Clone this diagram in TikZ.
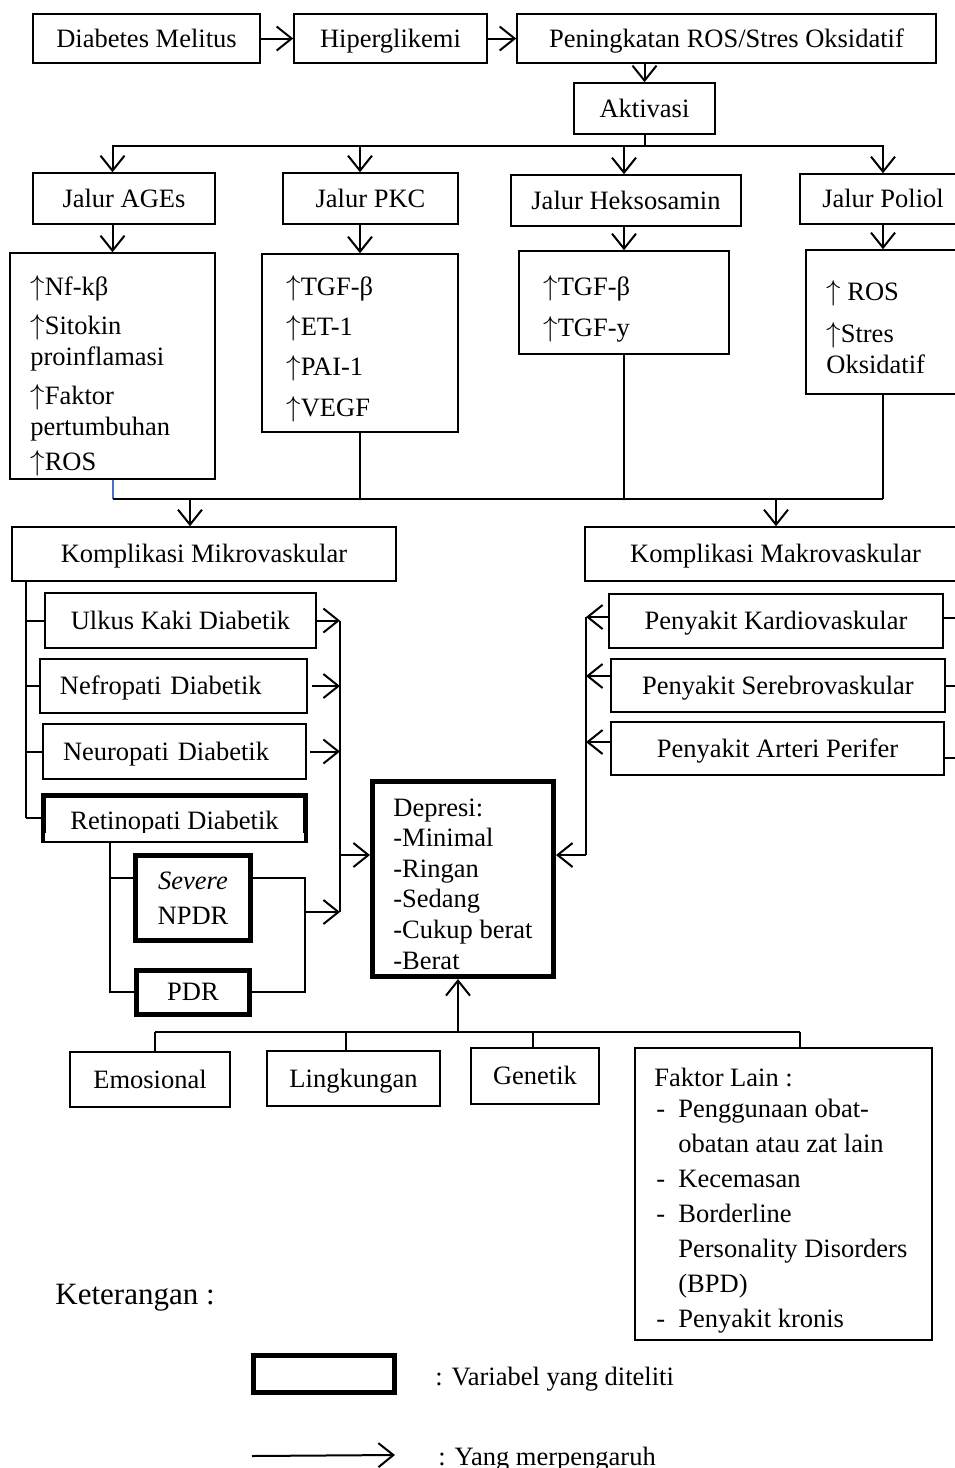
\documentclass[tikz,border=0pt]{standalone}
\usepackage{fontspec}
\setmainfont{Liberation Serif}
\usetikzlibrary{arrows.meta,calc}
\definecolor{lnblue}{RGB}{68,114,196}
\begin{document}
\begin{tikzpicture}[x=0.5pt,y=-0.5pt,
  font=\fontsize{13.25}{15.3}\selectfont,
  bx/.style={draw, line width=0.75pt, inner sep=0pt, align=center},
  sl/.style={text height=10.8pt, text depth=2pt},
  tk/.style={draw, line width=2.5pt, inner sep=0pt, align=center},
  tx/.style={anchor=base west, inner sep=0pt, align=left},
  ln/.style={line width=1pt},
  arr/.style={line width=1pt, -{Straight Barb[length=7.5pt,width=12pt]}},
]
\path[fill=white, use as bounding box] (0,0) rectangle (954,1468);

% top row
\node[bx, sl, minimum width=113.5pt, minimum height=24.5pt] (dm) at (146.5,38.5) {Diabetes Melitus};
\node[bx, sl, minimum width=96.5pt, minimum height=24.5pt] (hip) at (390.5,38.5) {Hiperglikemi};
\node[bx, sl, minimum width=209.5pt, minimum height=24.5pt] (ros) at (726.5,38.5) {Peningkatan ROS/Stres Oksidatif};
\node[bx, sl, minimum width=70.5pt, minimum height=25.5pt] (akt) at (644.5,108.5) {Aktivasi};

% pathways
\node[bx, sl, minimum width=91pt, minimum height=25.5pt] (ages) at (124,198.5) {Jalur AGEs};
\node[bx, sl, minimum width=87.5pt, minimum height=25.5pt] (pkc) at (370.5,198.5) {Jalur PKC};
\node[bx, sl, minimum width=115pt, minimum height=25.5pt] (hek) at (626,200.5) {Jalur Heksosamin};
\node[bx, sl, minimum width=83pt, minimum height=25pt] (pol) at (883,199) {Jalur Poliol};

% (base anchor of a multi-line text = baseline of its last line)
\node[bx, minimum width=102.5pt, minimum height=113pt] (agesC) at (112.5,366) {};
\node[tx] (agesT) at (30,470)
  {$\uparrow$Nf-kβ\\[4.5pt] $\uparrow$Sitokin\\ proinflamasi\\[4.5pt] $\uparrow$Faktor\\ pertumbuhan\\[2pt] $\uparrow$ROS};
\node[bx, minimum width=98pt, minimum height=89pt] (pkcC) at (360,343) {};
\node[tx] (pkcT) at (286,416)
  {$\uparrow$TGF-β\\[4.75pt] $\uparrow$ET-1\\[4.75pt] $\uparrow$PAI-1\\[4.75pt] $\uparrow$VEGF};
\node[bx, minimum width=105pt, minimum height=51.5pt] (hekC) at (624,302.5) {};
\node[tx] (hekT) at (543,336) {$\uparrow$TGF-β\\[4.75pt] $\uparrow$TGF-y};
\node[bx, minimum width=77pt, minimum height=72pt] (polC) at (883,322) {};
\node[tx] (polT) at (826,373) {$\uparrow$ ROS\\[5.5pt] $\uparrow$Stres\\ Oksidatif};

% complications
\node[bx, sl, minimum width=192pt, minimum height=27pt] (mik) at (204,554) {Komplikasi Mikrovaskular};
\node[bx, sl, minimum width=190.5pt, minimum height=27pt] (mak) at (775.5,554) {Komplikasi Makrovaskular};

\node[bx, sl, minimum width=135.5pt, minimum height=27.5pt] (ulk) at (180.5,620.5) {Ulkus Kaki Diabetik};
\node[bx, sl, minimum width=133.5pt, minimum height=27pt, text width=113.5pt, inner xsep=10pt, align=left] (nef) at (173.5,686) {Nefropati Diabetik};
\node[bx, sl, minimum width=131.5pt, minimum height=27.5pt, text width=111.5pt, inner xsep=10pt, align=left] (neu) at (174.5,751.5) {Neuropati Diabetik};
\node[tk, minimum width=131pt, minimum height=22.5pt] (ret) at (174.5,818) {};
\node[anchor=base, inner sep=0pt] (retT) at (174.5,829) {Retinopati Diabetik};
\fill[white] ($(ret.south west)+(4,-10.5)$) rectangle ($(ret.south east)+(-4,-2.5)$);
\node[tk, minimum width=57.5pt, minimum height=42.5pt] (sev) at (193,898) {\itshape Severe\\[2pt] NPDR};
\node[tk, sl, minimum width=56.5pt, minimum height=22pt] (pdr) at (193,992) {PDR};

\node[tk, minimum width=90.5pt, minimum height=97.5pt] (dep) at (463,879) {};
\node[tx] (depT) at (393,969)
  {Depresi:\\ -Minimal\\ -Ringan\\ -Sedang\\ -Cukup berat\\ -Berat};

\node[bx, sl, minimum width=167pt, minimum height=27pt] (kar) at (776,621) {Penyakit Kardiovaskular};
\node[bx, sl, minimum width=167pt, minimum height=26.5pt] (ser) at (778,685.5) {Penyakit Serebrovaskular};
\node[bx, sl, minimum width=166.5pt, minimum height=26.5pt] (art) at (777.5,748.5) {Penyakit Arteri Perifer};

% factors
\node[bx, sl, minimum width=80pt, minimum height=27.5pt] (emo) at (150,1079.5) {Emosional};
\node[bx, sl, minimum width=86.5pt, minimum height=27.5pt] (lin) at (353.5,1078.5) {Lingkungan};
\node[bx, sl, minimum width=64pt, minimum height=28pt] (gen) at (535,1076) {Genetik};
\node[bx, minimum width=148.5pt, minimum height=146pt] (fak) at (783.5,1194) {};
\node[tx, font=\fontsize{13.25}{17.5}\selectfont] (fakT) at (654,1327)
  {Faktor Lain :\\[-2pt]
   \makebox[12pt][l]{\hspace{1pt}-}Penggunaan obat-\\
   \hspace*{12pt}obatan atau zat lain\\
   \makebox[12pt][l]{\hspace{1pt}-}Kecemasan\\
   \makebox[12pt][l]{\hspace{1pt}-}Borderline\\
   \hspace*{12pt}Personality Disorders\\
   \hspace*{12pt}(BPD)\\
   \makebox[12pt][l]{\hspace{1pt}-}Penyakit kronis};

% legend
\node[anchor=west, inner sep=0pt, font=\fontsize{15.5}{18}\selectfont] (ket) at (55,1298) {Keterangan :};
\node[tk, minimum width=70.5pt, minimum height=18.5pt] (lgb) at (324,1374) {};
\node[anchor=west, inner sep=0pt] (lgt1) at (435,1379) {: Variabel yang diteliti};
\coordinate (la1) at (252,1456);
\coordinate (la2) at (395,1455);
\draw[arr] (la1) -- (la2);
\node[anchor=base west, inner sep=0pt] (lgt2) at (438,1465) {: Yang merpengaruh};

% connectors top
\draw[arr] (dm) -- (hip);
\draw[arr] (hip) -- (ros);
\draw[arr] (akt.north |- ros.south) -- (akt.north);
\coordinate (busA) at (0,146);
\draw[ln] (akt.south) -- (akt.south |- busA);
\draw[ln, line cap=rect] (agesC.north |- busA) -- (polC.north |- busA);
\foreach \n/\m in {ages/agesC, pkc/pkcC, hek/hekC, pol/polC} {
  \draw[arr] (\m.north |- busA) -- (\m.north |- \n.north);
  \draw[arr] (\m.north |- \n.south) -- (\m.north);
}

% bus B
\coordinate (busB) at (0,499);
\draw[ln, lnblue] (agesC.south) -- (agesC.south |- busB);
\draw[ln] (agesC.south |- busB) -- (polC.south |- busB);
\draw[ln] (pkcC.south) -- (pkcC.south |- busB);
\draw[ln] (hekC.south) -- (hekC.south |- busB);
\draw[ln] (polC.south) -- (polC.south |- busB);
\coordinate (m1) at (190,499);
\coordinate (m2) at (776,499);
\draw[arr] (m1) -- (m1 |- mik.north);
\draw[arr] (m2) -- (m2 |- mak.north);

% micro
\coordinate (lx) at (26,0);
\draw[ln] (lx |- mik.south) -- (lx |- ret.west);
\foreach \n in {ulk,nef,neu,ret} \draw[ln] (lx |- \n.west) -- (\n.west);
\coordinate (rx) at (340,0);
\coordinate (ys) at (0,912);
\coordinate (bxr) at (305,0);
\coordinate (yd) at (0,855);
\draw[arr] (ulk.east) -- (rx |- ulk.east);
\draw[arr] ([xshift=2pt]nef.east) -- (rx |- nef.east);
\draw[arr] ([xshift=1.5pt]neu.east) -- (rx |- neu.east);
\draw[arr] (bxr |- ys) -- (rx |- ys);
\draw[ln] (rx |- ulk.east) -- (rx |- ys);
\draw[arr] (rx |- yd) -- (dep.west |- yd);

% retino sub
\coordinate (rlx) at (110,0);
\coordinate (yt) at (0,878);
\draw[ln] (rlx |- ret.south) -- (rlx |- pdr.west) -- (pdr.west);
\draw[ln] (rlx |- yt) -- (sev.west |- yt);
\draw[ln] (sev.east |- yt) -- (bxr |- yt) -- (bxr |- pdr.east) -- (pdr.east);

% macro
\coordinate (kx) at (586,0);
\coordinate (yk1) at (0,617);
\coordinate (yk2) at (0,676);
\coordinate (yk3) at (0,742);
\draw[arr] (kar.west |- yk1) -- (kx |- yk1);
\draw[arr] (ser.west |- yk2) -- (kx |- yk2);
\draw[arr] (art.west |- yk3) -- (kx |- yk3);
\draw[ln] (kx |- yk1) -- (kx |- yd);
\draw[arr] (kx |- yd) -- (dep.east |- yd);
\coordinate (ex) at (962,0);
\coordinate (yr1) at (0,618);
\coordinate (yr2) at (0,686);
\coordinate (yr3) at (0,758);
\draw[ln] (kar.east |- yr1) -- (ex |- yr1);
\draw[ln] (ser.east |- yr2) -- (ex |- yr2);
\draw[ln] ([xshift=-1pt]art.east |- yr3) -- (ex |- yr3);

% factors
\coordinate (busC) at (0,1032);
\coordinate (fx) at (458,0);
\draw[arr] (fx |- busC) -- (fx |- dep.south);
\coordinate (b1) at (155,1032);
\coordinate (b2) at (346,1032);
\coordinate (b3) at (533,1032);
\coordinate (b4) at (800,1032);
\draw[ln] (b1) -- (b4);
\draw[ln] (b1) -- (b1 |- emo.north);
\draw[ln] (b2) -- (b2 |- lin.north);
\draw[ln] (b3) -- (b3 |- gen.north);
\draw[ln] (b4) -- (b4 |- fak.north);
\end{tikzpicture}
\end{document}
